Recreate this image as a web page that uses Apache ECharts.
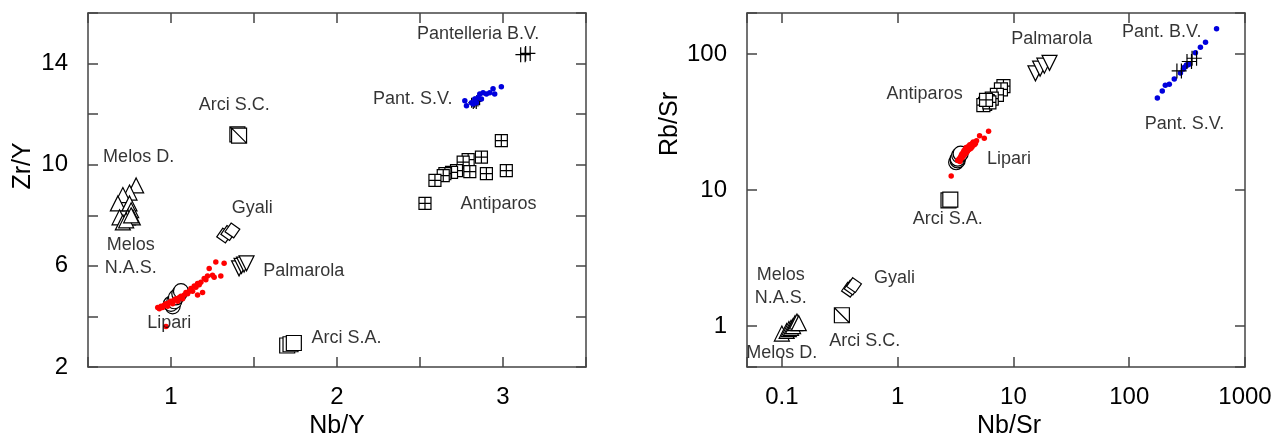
<!DOCTYPE html>
<html>
<head>
<meta charset="utf-8">
<script src="https://cdn.jsdelivr.net/npm/echarts@6/dist/echarts.min.js"></script>
<style>
html, body { margin: 0; padding: 0; background: #fff; }
#chart { width: 1274px; height: 439px; }
</style>
</head>
<body>
<div id="chart"></div>
<script>
// ---- left panel: Zr/Y vs Nb/Y ----
var lMelosD = [[0.79, 9.18], [0.75, 8.9], [0.71, 8.8], [0.68, 8.47], [0.75, 8.47], [0.76, 8.2]];
var lMelosNAS = [[0.69, 7.92], [0.74, 7.92], [0.71, 7.72], [0.77, 7.92], [0.73, 7.8], [0.76, 8.0]];
var lArciSC = [[1.40, 11.2], [1.41, 11.15]];
var lGyali = [[1.32, 7.2], [1.345, 7.3], [1.37, 7.4]];
var lPalmarola = [[1.41, 5.9], [1.425, 6.0], [1.44, 6.05], [1.455, 6.1]];
var lLipariCircles = [[1.01, 4.4], [1.0, 4.5], [1.02, 4.6], [1.03, 4.75], [1.05, 4.9], [1.06, 5.0]];
var lLipariDots = [[0.92, 4.35], [0.93, 4.3], [0.94, 4.4], [0.95, 4.35], [0.96, 4.45], [0.97, 4.5], [0.98, 4.4],
    [0.99, 4.55], [1.0, 4.6], [1.01, 4.5], [1.02, 4.65], [1.03, 4.7], [1.04, 4.6], [1.05, 4.75], [1.06, 4.8],
    [1.07, 4.7], [1.08, 4.85], [1.09, 4.95], [1.1, 4.9], [1.11, 5.0], [1.12, 5.1], [1.13, 5.0], [1.14, 5.2],
    [1.15, 5.15], [1.16, 5.3], [1.17, 5.25], [1.18, 5.35], [1.2, 5.5], [1.21, 5.45], [1.19, 4.95], [1.16, 4.85],
    [1.22, 5.6], [1.25, 5.63], [1.23, 5.9], [1.26, 5.55], [1.27, 6.15], [1.32, 6.1], [1.30, 5.6], [0.97, 3.6]];
var lArciSA = [[1.70, 2.85], [1.72, 2.9], [1.74, 2.95]];
var lAntiparos = [[2.99, 10.95], [2.87, 10.3], [2.79, 10.2], [2.76, 10.1], [2.80, 9.73], [2.72, 9.77], [2.69, 9.7],
    [2.65, 9.65], [2.64, 9.57], [2.59, 9.38], [2.90, 9.65], [3.02, 9.77], [2.53, 8.47]];
var lPantBV = [[3.12, 14.35], [3.15, 14.4]];
var lPantSVcross = [[2.82, 12.45], [2.83, 12.4], [2.84, 12.5], [2.85, 12.55]];
var lPantSVdots = [[2.77, 12.53], [2.78, 12.33], [2.81, 12.45], [2.83, 12.6], [2.85, 12.65], [2.86, 12.8],
    [2.88, 12.85], [2.90, 12.8], [2.94, 13.0], [2.95, 12.8], [2.99, 13.08], [2.87, 12.6], [2.84, 12.45],
    [2.92, 12.85], [2.82, 12.4]];
var lLabels = [[0.805, 10.32, 'Melos D.'], [1.381, 12.37, 'Arci S.C.'], [1.49, 8.27, 'Gyali'],
    [0.757, 6.36, 'Melos\nN.A.S.'], [1.80, 5.79, 'Palmarola'], [0.99, 3.74, 'Lipari'], [2.057, 3.14, 'Arci S.A.'],
    [2.85, 15.18, 'Pantelleria B.V.'], [2.456, 12.61, 'Pant. S.V.'], [2.973, 8.43, 'Antiparos']];

// ---- right panel: Rb/Sr vs Nb/Sr (log-log) ----
var rMelosD = [[0.10, 0.88], [0.11, 0.92], [0.115, 0.95]];
var rMelosNAS = [[0.12, 0.97], [0.125, 1.0], [0.13, 1.05], [0.135, 1.08], [0.14, 1.05]];
var rGyali = [[0.38, 1.85], [0.40, 1.92], [0.42, 2.0]];
var rArciSC = [[0.33, 1.2]];
var rArciSA = [[2.75, 8.4], [2.85, 8.5]];
var rLipariCircles = [[3.2, 16], [3.3, 16.5], [3.3, 17], [3.4, 18], [3.5, 18.5]];
var rLipariDots = [[3.3, 16.5], [3.4, 17], [3.5, 17.5], [3.55, 18], [3.6, 18.5], [3.65, 18], [3.7, 19], [3.75, 19.5],
    [3.8, 19], [3.85, 20], [3.9, 20.5], [3.95, 19.8], [4.0, 20.5], [4.1, 21], [4.2, 21.5], [4.3, 21], [4.4, 22],
    [4.5, 22.5], [4.6, 21.5], [3.45, 16.2], [3.6, 17.2], [3.8, 18.2], [4.0, 19.2], [4.2, 20], [4.4, 20.8],
    [4.8, 23], [5.1, 25], [5.6, 24], [6.1, 27], [2.9, 12.7], [3.5, 16.8], [3.7, 17.8], [3.9, 18.7], [4.1, 19.8],
    [4.3, 20.3], [4.7, 22]];
var rAntiparos = [[8.2, 58], [7.8, 55], [7.2, 50], [6.5, 47], [6.0, 45], [5.7, 43], [5.5, 42], [6.2, 44], [5.8, 46]];
var rPalmarola = [[15.5, 72], [17, 78], [18.5, 82], [20.5, 86]];
var rPantSV = [[175, 47.5], [193, 53.5], [205, 59], [222, 60], [245, 65.5], [277, 72.5], [294, 77.6], [312, 83],
    [331, 84.4], [300, 80], [320, 83], [373, 102], [412, 112], [456, 122], [568, 153]];
var rPantBV = [[270, 75], [330, 88], [365, 93]];
var rLabels = [[1.71, 50.8, 'Antiparos'], [21.4, 129, 'Palmarola'], [191, 145, 'Pant. B.V.'],
    [300, 30.6, 'Pant. S.V.'], [9.16, 16.9, 'Lipari'], [2.71, 6.12, 'Arci S.A.'], [0.098, 1.95, 'Melos\nN.A.S.'],
    [0.938, 2.25, 'Gyali'], [0.52, 0.776, 'Arci S.C.'], [0.1, 0.633, 'Melos D.']];

var FONT = '"Liberation Sans", Arial, Helvetica, sans-serif';
var INK = '#000';
var FRAME = '#444';

var SQ_DIAG = 'path://M0,0H10V10H0ZM0,0L10,10';
var SQ_CROSS = 'path://M0,0H10V10H0ZM5,0V10M0,5H10';
var DBL_CROSS = 'path://M0,5H10M3.5,0V10M6.5,0V10';

function pts(name, data, panel, symbol, size, opts) {
    opts = opts || {};
    return {
        name: name,
        type: 'scatter',
        xAxisIndex: panel * 2,
        yAxisIndex: panel * 2,
        data: data,
        symbol: symbol,
        symbolSize: size,
        symbolRotate: opts.rotate || 0,
        itemStyle: {
            color: opts.fill || '#fff',
            borderColor: opts.stroke || '#000',
            borderWidth: opts.lw === undefined ? 1.2 : opts.lw,
            opacity: 1
        },
        emphasis: { disabled: true },
        silent: true,
        z: opts.z || 2
    };
}

function dots(name, data, panel, color) {
    return pts(name, data, panel, 'circle', 5.5, { fill: color, stroke: color, lw: 0, z: 4 });
}

function labels(data, panel) {
    return {
        type: 'scatter',
        xAxisIndex: panel * 2,
        yAxisIndex: panel * 2,
        data: data,
        symbolSize: 0,
        silent: true,
        z: 10,
        label: {
            show: true,
            position: 'inside',
            formatter: function (p) { return p.data[2]; },
            color: INK,
            fontFamily: FONT,
            fontSize: 18,
            lineHeight: 23
        }
    };
}

function axisBase(extra) {
    var a = {
        axisLine: { show: true, onZero: false, lineStyle: { color: FRAME, width: 1.5 } },
        axisTick: { show: true, inside: true, length: 10, lineStyle: { color: FRAME, width: 1.5 } },
        splitLine: { show: false },
        axisLabel: { color: INK, fontFamily: FONT, fontSize: 24 },
        nameTextStyle: { color: INK, fontFamily: FONT, fontSize: 25 }
    };
    for (var k in extra) a[k] = extra[k];
    return a;
}

function decade(v) {
    var l = Math.log10(v);
    var r = Math.round(l);
    if (Math.abs(l - r) > 1e-6) return '';
    return r < 0 ? Math.pow(10, r).toFixed(-r) : String(Math.pow(10, r));
}

var chart = echarts.init(document.getElementById('chart'), null, { renderer: 'canvas' });

var option = {
    animation: false,
    backgroundColor: '#fff',
    grid: [
        { left: 88, top: 13, width: 498, height: 354, containLabel: false, outerBoundsMode: 'none' },
        { left: 747, top: 13, width: 498, height: 354, containLabel: false, outerBoundsMode: 'none' }
    ],
    xAxis: [
        axisBase({
            gridIndex: 0, type: 'value', min: 0.5, max: 3.5, interval: 0.5, position: 'bottom',
            name: 'Nb/Y', nameLocation: 'middle', nameGap: 46,
            axisLabel: { color: INK, fontFamily: FONT, fontSize: 24, margin: 18,
                formatter: function (v) { return Number.isInteger(v) ? String(v) : ''; } }
        }),
        axisBase({
            gridIndex: 0, type: 'value', min: 0.5, max: 3.5, interval: 0.5, position: 'top',
            axisLabel: { show: false }
        }),
        axisBase({
            gridIndex: 1, type: 'log', logBase: 10, min: 0.05, max: 1000, position: 'bottom',
            name: 'Nb/Sr', nameLocation: 'middle', nameGap: 46,
            nameTextStyle: { color: INK, fontFamily: FONT, fontSize: 25, padding: [0, 0, 0, 26] },
            axisLabel: { color: INK, fontFamily: FONT, fontSize: 24, margin: 18, formatter: decade }
        }),
        axisBase({
            gridIndex: 1, type: 'log', logBase: 10, min: 0.05, max: 1000, position: 'top',
            axisLabel: { show: false }
        })
    ],
    yAxis: [
        axisBase({
            gridIndex: 0, type: 'value', min: 2, max: 16, interval: 2, position: 'left',
            name: 'Zr/Y', nameLocation: 'middle', nameGap: 52,
            nameTextStyle: { color: INK, fontFamily: FONT, fontSize: 25, padding: [0, 0, 0, 48] },
            axisLabel: { color: INK, fontFamily: FONT, fontSize: 24, margin: 20,
                formatter: function (v) { return ((v - 2) % 4 === 0 && v < 16) ? String(v) : ''; } }
        }),
        axisBase({
            gridIndex: 0, type: 'value', min: 2, max: 16, interval: 2, position: 'right',
            axisLabel: { show: false }
        }),
        axisBase({
            gridIndex: 1, type: 'log', logBase: 10, min: 0.5, max: 200, position: 'left',
            name: 'Rb/Sr', nameLocation: 'middle', nameGap: 45,
            nameTextStyle: { color: INK, fontFamily: FONT, fontSize: 25, padding: [0, 0, 0, 132] },
            axisLabel: { color: INK, fontFamily: FONT, fontSize: 24, margin: 20, formatter: decade }
        }),
        axisBase({
            gridIndex: 1, type: 'log', logBase: 10, min: 0.5, max: 200, position: 'right',
            axisLabel: { show: false }
        })
    ],
    series: [
        pts('Melos D.', lMelosD, 0, 'triangle', 15),
        pts('Melos N.A.S.', lMelosNAS, 0, 'triangle', 15),
        pts('Arci S.C.', lArciSC, 0, SQ_DIAG, 15),
        pts('Gyali', lGyali, 0, 'diamond', 15, { rotate: 10 }),
        pts('Palmarola', lPalmarola, 0, 'triangle', 15, { rotate: 180 }),
        pts('Lipari', lLipariCircles, 0, 'circle', 15),
        dots('Lipari dots', lLipariDots, 0, '#ff0000'),
        pts('Arci S.A.', lArciSA, 0, 'rect', 15),
        pts('Antiparos', lAntiparos, 0, SQ_CROSS, 12),
        pts('Pantelleria B.V.', lPantBV, 0, DBL_CROSS, 15, { fill: 'rgba(0,0,0,0)' }),
        pts('Pant. S.V.', lPantSVcross, 0, DBL_CROSS, 10, { fill: 'rgba(0,0,0,0)' }),
        dots('Pant. S.V. dots', lPantSVdots, 0, '#0000dd'),
        labels(lLabels, 0),

        pts('Melos D.', rMelosD, 1, 'triangle', 15),
        pts('Melos N.A.S.', rMelosNAS, 1, 'triangle', 15),
        pts('Gyali', rGyali, 1, 'diamond', 15, { rotate: 10 }),
        pts('Arci S.C.', rArciSC, 1, SQ_DIAG, 15),
        pts('Arci S.A.', rArciSA, 1, 'rect', 15),
        pts('Lipari', rLipariCircles, 1, 'circle', 15),
        dots('Lipari dots', rLipariDots, 1, '#ff0000'),
        pts('Antiparos', rAntiparos, 1, SQ_CROSS, 13),
        pts('Palmarola', rPalmarola, 1, 'triangle', 15, { rotate: 180 }),
        dots('Pant. S.V.', rPantSV, 1, '#0000dd'),
        pts('Pant. B.V.', rPantBV, 1, DBL_CROSS, 15, { fill: 'rgba(0,0,0,0)', z: 5 }),
        labels(rLabels, 1)
    ]
};

chart.setOption(option);
</script>
</body>
</html>
